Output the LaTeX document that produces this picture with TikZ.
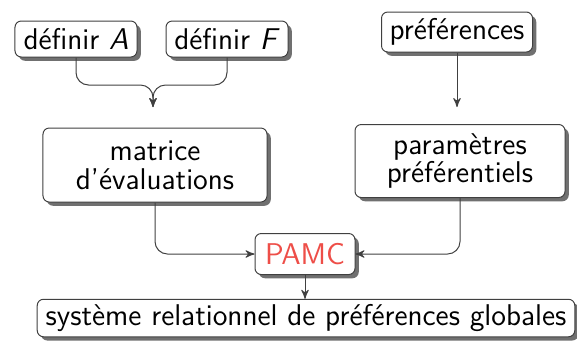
\documentclass[tikz,border=0pt]{standalone}
\usepackage{tikz}
\usetikzlibrary{arrows,shadows,positioning}
\definecolor{pamcred}{RGB}{238,78,72}
\tikzstyle{box_n} = [rectangle, rounded corners=2.5pt, draw=black!75, thin, fill=white, font=\sffamily\fontsize{12}{11.5}\selectfont, align=center, inner sep=0pt, drop shadow={shadow xshift=1.5pt, shadow yshift=-1.5pt, fill=black!70, opacity=0.8}]
\tikzstyle{link} = [->, >=stealth', draw=black!75, thin, rounded corners=5pt]

\begin{document}
\begin{tikzpicture}[x=0.4pt,y=-0.4pt]
\useasboundingbox (0,0) rectangle (577,342);
% inputs
\node [box_n, minimum width=48.8pt, minimum height=14.4pt] (defA) at (76,39) {d\'efinir \textit{A}};
\node [box_n, minimum width=48.8pt, minimum height=14.4pt] (defF) at (227,39) {d\'efinir \textit{F}};
\node [box_n, minimum width=60.4pt, minimum height=16pt] (pref) at (457,32) {pr\'ef\'erences};
% intermediate
\node [box_n, minimum width=89.6pt, minimum height=29.6pt] (matrice) at (155,165) {matrice\\d'\'evaluations};
\node [box_n, minimum width=84pt, minimum height=29.2pt] (param) at (460,161) {param\`etres\\pr\'ef\'erentiels};
% method and result
\node [box_n, minimum width=40pt, minimum height=16.4pt, text=pamcred] (pamc) at (305,254) {PAMC};
\node [box_n, minimum width=215pt, minimum height=15pt] (syst) at (306,318) {syst\`eme relationnel de pr\'ef\'erences globales};
\coordinate (join) at (153,85);
\coordinate (mIn) at (153,107);
\coordinate (pIn) at (457,107);
\draw [link] (defA.south) |- (join) -- (mIn);
\draw [link] (defF.south) |- (join) -- (mIn);
\draw [link] (pref.south) -- (pIn);
\draw [link] (matrice.south) |- (pamc.west);
\draw [link] (param.south) |- (pamc.east);
\draw [link] (pamc.south) -- (pamc.south |- syst.north);
\end{tikzpicture}
\end{document}
